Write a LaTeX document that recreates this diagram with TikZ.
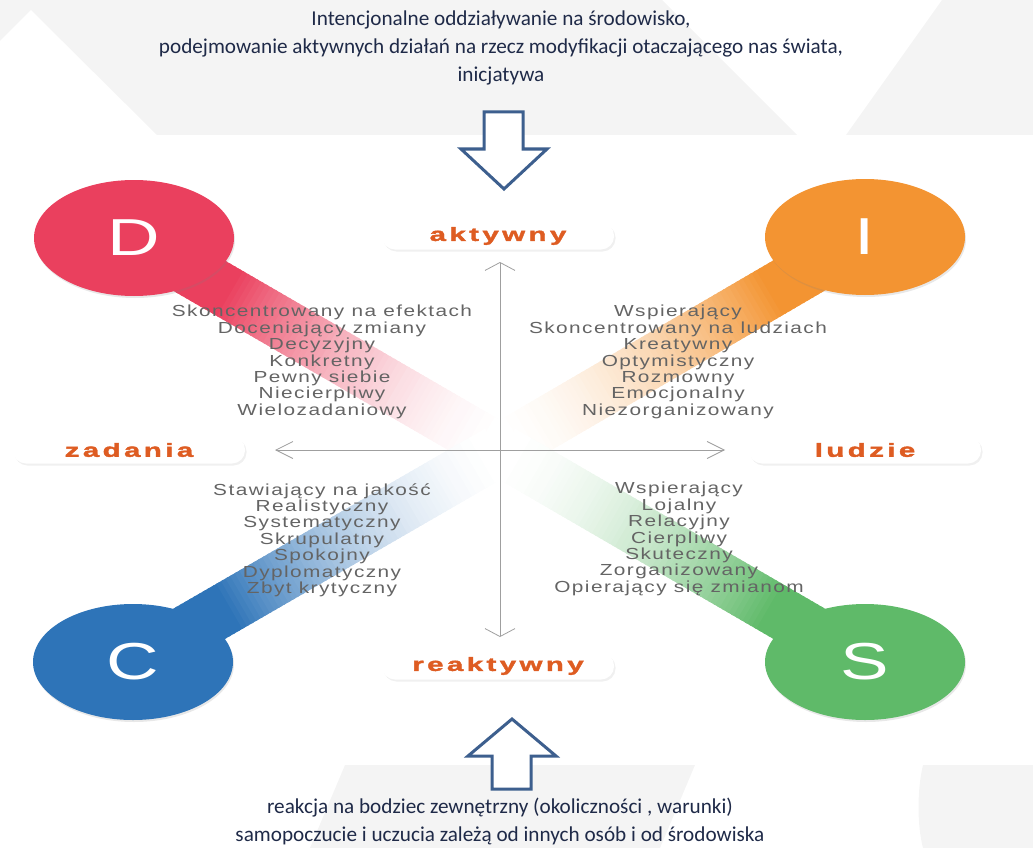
\documentclass[tikz,border=0pt]{standalone}
\usepackage{fontspec}
\setmainfont{Liberation Sans}
\newfontfamily\opisfont{Carlito}
\newfontfamily\cechyfont[FakeStretch=1.3,LetterSpace=9]{Liberation Sans}
\newfontfamily\osfont[FakeStretch=1.55,LetterSpace=18,FakeBold=2]{Liberation Sans Bold}
\newfontfamily\literafont[FakeStretch=1.4]{Liberation Sans}
\usetikzlibrary{shapes.geometric,shadows,arrows.meta,calc}

\definecolor{tlo}{RGB}{244,244,244}
\definecolor{dcol}{RGB}{234,64,94}
\definecolor{icol}{RGB}{243,148,50}
\definecolor{ccol}{RGB}{46,116,184}
\definecolor{scol}{RGB}{95,186,105}
\definecolor{pomar}{RGB}{222,92,34}
\definecolor{szary}{RGB}{100,100,100}
\definecolor{granat}{RGB}{31,42,72}
\definecolor{strzal}{RGB}{61,95,142}

\tikzset{
  kolo/.style={ellipse,minimum width=200pt,minimum height=116pt,inner sep=0pt,text=white,
    font=\literafont\fontsize{52}{52}\selectfont,
    drop shadow={opacity=0.18,shadow xshift=1pt,shadow yshift=-2pt}},
  pigulka/.style={rectangle,rounded corners=13pt,fill=white,minimum width=232pt,minimum height=27pt,
    inner sep=0pt,text=pomar,font=\osfont\fontsize{19}{19}\selectfont,
    drop shadow={opacity=0.12,shadow xshift=1.5pt,shadow yshift=-2pt}},
  cechy/.style={align=center,text=szary,font=\cechyfont\fontsize{16}{16.4}\selectfont},
  opis/.style={align=center,text=granat,font=\opisfont\fontsize{21.2}{28}\selectfont},
  os/.style={draw=gray!75,line width=0.8pt},
  blokowa/.style={draw=strzal,line width=3pt,fill=white,line join=miter},
}

\newcommand\pasek[3]{%
  \foreach \i in {0,...,79}{
    \pgfmathsetmacro\ta{\i/80}
    \pgfmathsetmacro\tb{min((\i+1.5)/80,0.995)}
    \pgfmathtruncatemacro\pr{100*min(1,((1-\ta)/0.75)^1.8)}
    \fill[#1!\pr!white] ($(#2)!\ta!(#3)!26pt!90:(#3)$) -- ($(#2)!\tb!(#3)!26pt!90:(#3)$)
      -- ($(#2)!\tb!(#3)!26pt!-90:(#3)$) -- ($(#2)!\ta!(#3)!26pt!-90:(#3)$) -- cycle;
  }}

\begin{document}
\begin{tikzpicture}[x=1pt,y=-1pt]
\useasboundingbox (0,0) rectangle (1033,848);

\fill[tlo] (0,0) -- (662,0) -- (797,135) -- (157,135) -- (31,10) -- (0,41) -- cycle;
\fill[tlo] (942,0) -- (1033,0) -- (1033,135) -- (846,135) -- cycle;
\fill[tlo] (345,765) -- (695,765) -- (660,848) -- (310,848) -- cycle;
\fill[tlo] (923,765) -- (1033,765) -- (1033,848) -- (923,848) .. controls (917,825) and (917,790) .. (923,765) -- cycle;

\coordinate (pD) at (134,238);
\coordinate (pI) at (865,237);
\coordinate (pC) at (133,662);
\coordinate (pS) at (865,662);
\coordinate (srodek) at (500,450);

\pasek{dcol}{pD}{srodek}
\pasek{icol}{pI}{srodek}
\pasek{ccol}{pC}{srodek}
\pasek{scol}{pS}{srodek}

\node[kolo,fill=dcol] (D) at (pD) {D};
\node[kolo,fill=icol] (I) at (pI) {I};
\node[kolo,fill=ccol] (C) at (pC) {C};
\node[kolo,fill=scol] (S) at (pS) {S};

\node[opis] (gora) at (501,48) {Intencjonalne oddziaływanie na środowisko,\\
  podejmowanie aktywnych działań na rzecz modyfikacji otaczającego nas świata,\\
  inicjatywa};
\node[opis] (dol) at (500,821) {reakcja na bodziec zewnętrzny (okoliczności , warunki)\\
  samopoczucie i uczucia zależą od innych osób i od środowiska};

\draw[blokowa] (484,112) -- (523,112) -- (523,149) -- (547,149) -- (504,189) -- (461,149) -- (484,149) -- cycle;
\draw[blokowa] (512,719) -- (556,756) -- (531,756) -- (531,789) -- (492,789) -- (492,756) -- (468,756) -- cycle;

\node[pigulka] (akt) at (498,236) {aktywny};
\node[pigulka] (reakt) at (498,666) {reaktywny};
\node[pigulka] (zad) at (129,450) {zadania};
\node[pigulka] (lud) at (865,450) {ludzie};

\coordinate (osG) at (500,262);
\coordinate (osD) at (500,637);
\coordinate (osL) at (275,450);
\coordinate (osP) at (725,450);
\draw[os,{Straight Barb[length=8pt,width=30pt]}-{Straight Barb[length=8pt,width=30pt]}] (osG) -- (osD);
\draw[os,{Straight Barb[length=17pt,width=17pt]}-{Straight Barb[length=17pt,width=17pt]}] (osL) -- (osP);

\node[cechy] (cD) at (322,362) {Skoncentrowany na efektach\\ Doceniający zmiany\\ Decyzyjny\\ Konkretny\\ Pewny siebie\\ Niecierpliwy\\ Wielozadaniowy};
\node[cechy] (cI) at (678,362) {Wspierający\\ Skoncentrowany na ludziach\\ Kreatywny\\ Optymistyczny\\ Rozmowny\\ Emocjonalny\\ Niezorganizowany};
\node[cechy] (cC) at (322,540) {Stawiający na jakość\\ Realistyczny\\ Systematyczny\\ Skrupulatny\\ Spokojny\\ Dyplomatyczny\\ Zbyt krytyczny};
\node[cechy] (cS) at (679,539) {Wspierający\\ Lojalny\\ Relacyjny\\ Cierpliwy\\ Skuteczny\\ Zorganizowany\\ Opierający się zmianom};

\end{tikzpicture}
\end{document}
